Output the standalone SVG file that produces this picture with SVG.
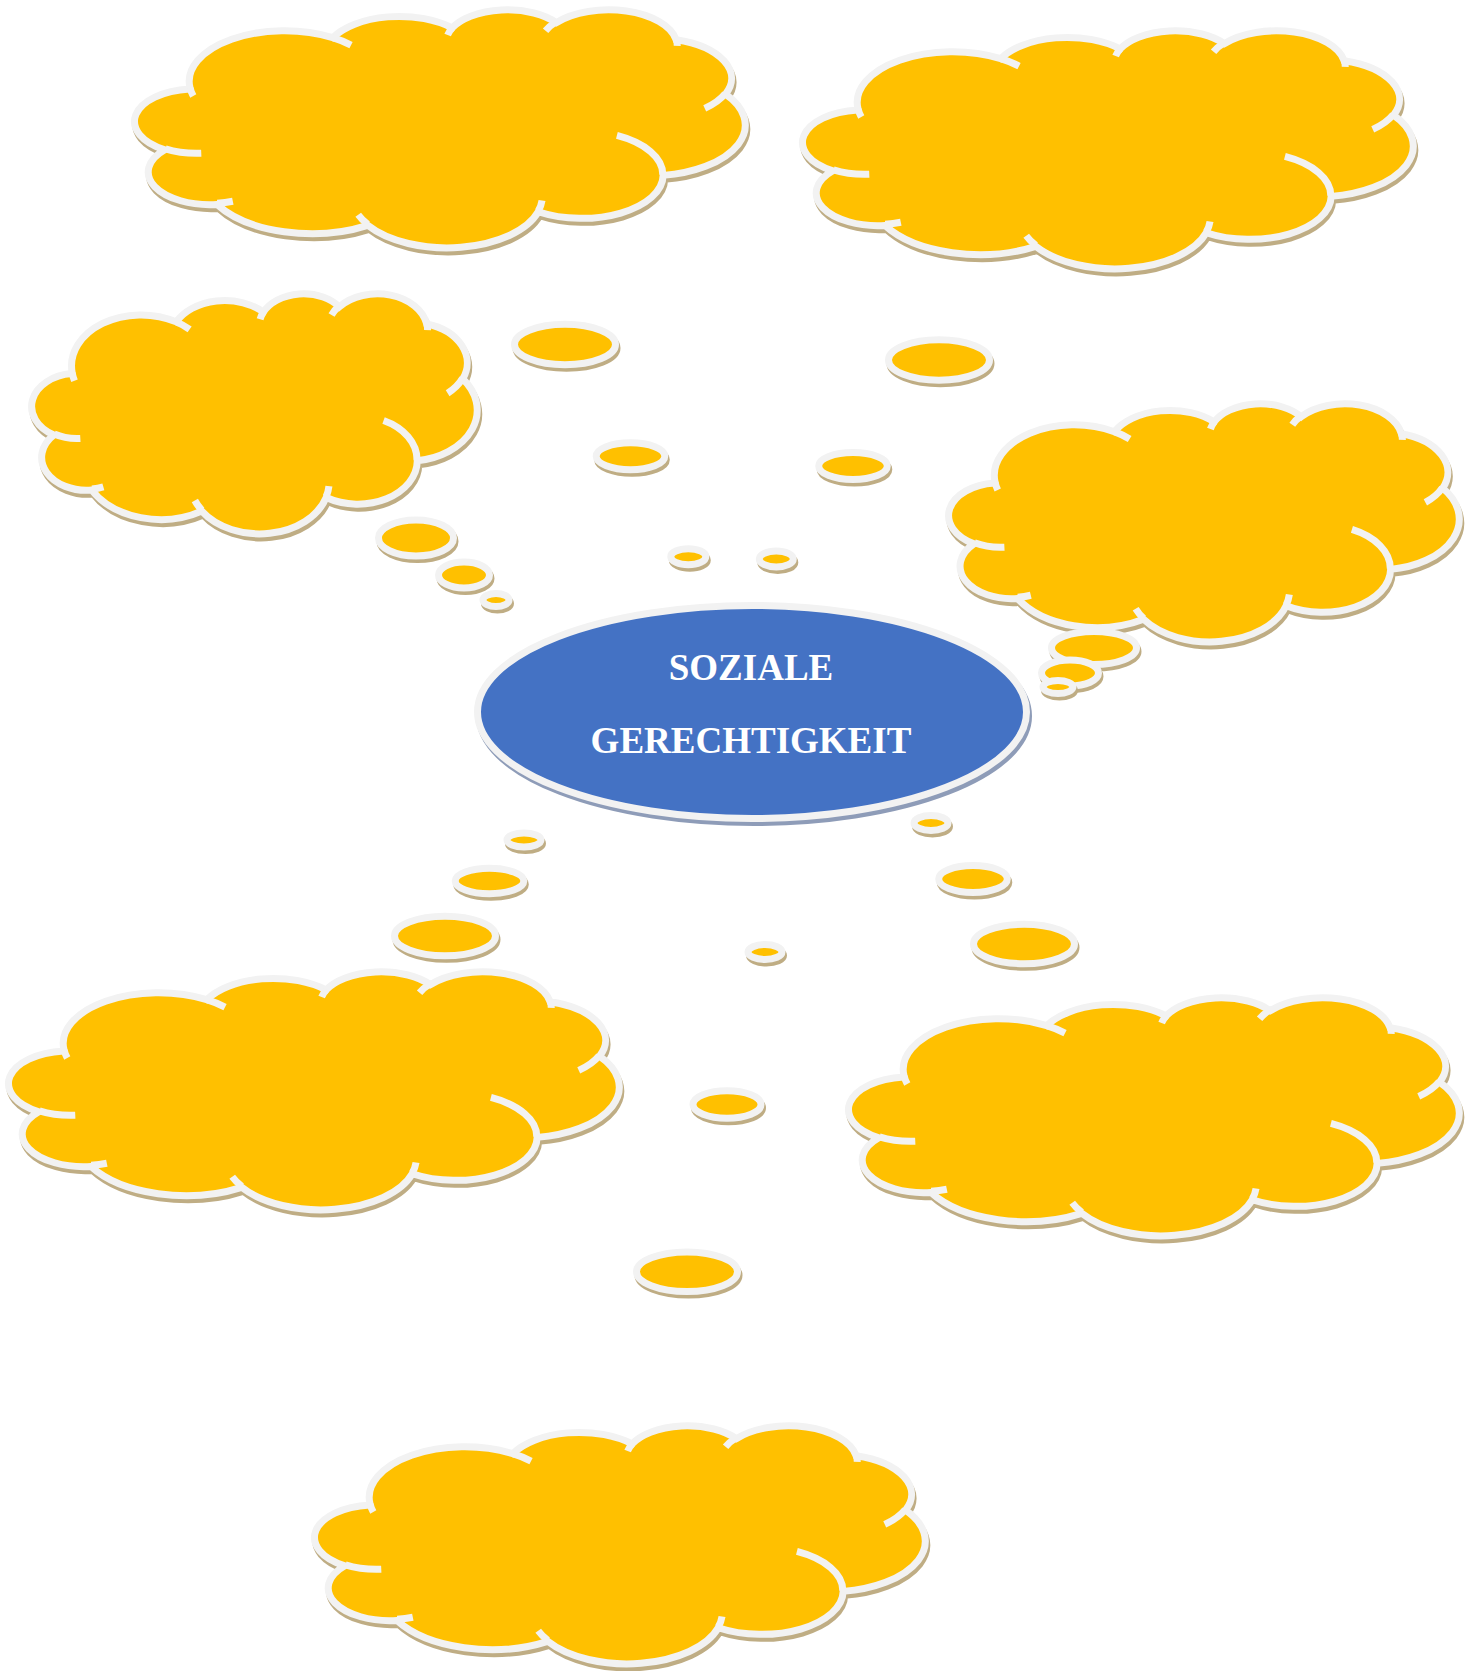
<svg xmlns="http://www.w3.org/2000/svg" width="1477" height="1671" viewBox="0 0 1477 1671">
<style>
.sh{fill:#BFAD84;stroke:#BFAD84;stroke-width:7}
.cl{fill:#FFC000;stroke:#F2F2F2;stroke-width:7}
.cr{fill:none;stroke:#F2F2F2;stroke-width:7;stroke-linecap:butt}
.b{fill:#FFC000;stroke:#F2F2F2;stroke-width:7}
.esh{fill:#8E9CB8;stroke:#8E9CB8;stroke-width:7}
.el{fill:#4472C4;stroke:#F2F2F2;stroke-width:7}
.t{font-family:"Liberation Serif","Times New Roman",serif;font-weight:bold;font-size:37px;fill:#FFFFFF;text-anchor:middle}
</style>
<defs>
<path id="co" vector-effect="non-scaling-stroke" d="M3900 14370 A6753 9190 0 0 1 14005 5202 A5333 7267 0 0 1 22456 3432 A4365 5945 0 0 1 29833 2481 A4857 6595 0 0 1 38319 5576 A5333 7273 0 0 1 41819 15459 A6775 9220 0 0 1 37404 30202 A5785 7867 0 0 1 28556 36812 A6752 9215 0 0 1 16481 39265 A7720 10543 0 0 1 5805 35471 A4360 5918 0 0 1 2113 25550 A4345 5945 0 0 1 3863 14507 Z"/>
<path id="cc" vector-effect="non-scaling-stroke" d="M4693 26177 A4345 5945 0 0 1 2160 25380 M6928 34899 A4360 5918 0 0 1 5820 35280 M16478 39090 A6752 9215 0 0 1 15809 37349 M28827 34751 A6752 9215 0 0 1 28560 36660 M34129 22954 A5785 7867 0 0 1 37380 30090 M41798 15354 A5333 7273 0 0 1 40350 18030 M38324 5426 A4857 6595 0 0 1 38400 6690 M29078 3952 A4857 6595 0 0 1 29820 2341 M22141 4720 A4365 5945 0 0 1 22500 3331 M14000 5192 A6753 9190 0 0 1 15300 6540 M4127 15789 A6753 9190 0 0 1 3900 14371"/>
</defs>
<rect x="0" y="0" width="1477" height="1671" fill="#FFFFFF"/>

<g id="cloud-a" transform="translate(135 9) scale(0.01412 0.005509)">
<use href="#co" class="sh" transform="translate(106 726)"/><use href="#co" class="cl"/><use href="#cc" class="cr"/>
</g>
<g id="cloud-b" transform="translate(803 30) scale(0.01412 0.005509)">
<use href="#co" class="sh" transform="translate(106 726)"/><use href="#co" class="cl"/><use href="#cc" class="cr"/>
</g>
<g id="cloud-c" transform="translate(32 293) scale(0.010301 0.0055556)">
<use href="#co" class="sh" transform="translate(146 720)"/><use href="#co" class="cl"/><use href="#cc" class="cr"/>
</g>
<g id="cloud-d" transform="translate(949 403) scale(0.011806 0.005509)">
<use href="#co" class="sh" transform="translate(127 726)"/><use href="#co" class="cl"/><use href="#cc" class="cr"/>
</g>
<g id="cloud-e" transform="translate(9 971) scale(0.01412 0.005509)">
<use href="#co" class="sh" transform="translate(106 726)"/><use href="#co" class="cl"/><use href="#cc" class="cr"/>
</g>
<g id="cloud-f" transform="translate(849 997) scale(0.01412 0.005509)">
<use href="#co" class="sh" transform="translate(106 726)"/><use href="#co" class="cl"/><use href="#cc" class="cr"/>
</g>
<g id="cloud-g" transform="translate(315 1425) scale(0.01412 0.005509)">
<use href="#co" class="sh" transform="translate(106 726)"/><use href="#co" class="cl"/><use href="#cc" class="cr"/>
</g>

<g id="connectors">
<g id="bubbles-a">
<ellipse class="sh" cx="566.5" cy="348" rx="50.5" ry="20.3"/><ellipse class="b" cx="565" cy="344.5" rx="50.5" ry="20.3"/>
<ellipse class="sh" cx="632" cy="459.8" rx="34.3" ry="13.5"/><ellipse class="b" cx="630.5" cy="456.3" rx="34.3" ry="13.5"/>
<ellipse class="sh" cx="689.8" cy="560.2" rx="17.5" ry="8"/><ellipse class="b" cx="688.3" cy="556.7" rx="17.5" ry="8"/>
</g>
<g id="bubbles-b">
<ellipse class="sh" cx="940.5" cy="363.5" rx="50.5" ry="20.3"/><ellipse class="b" cx="939" cy="360" rx="50.5" ry="20.3"/>
<ellipse class="sh" cx="854.5" cy="469.5" rx="34.3" ry="13.5"/><ellipse class="b" cx="853" cy="466" rx="34.3" ry="13.5"/>
<ellipse class="sh" cx="777.8" cy="562.5" rx="17" ry="8"/><ellipse class="b" cx="776.3" cy="559" rx="17" ry="8"/>
</g>
<g id="bubbles-c">
<ellipse class="sh" cx="417.5" cy="541.5" rx="37.5" ry="18"/><ellipse class="b" cx="416" cy="538" rx="37.5" ry="18"/>
<ellipse class="sh" cx="465.5" cy="578.5" rx="25.5" ry="13"/><ellipse class="b" cx="464" cy="575" rx="25.5" ry="13"/>
<ellipse class="sh" cx="497.5" cy="603.5" rx="13" ry="6.5"/><ellipse class="b" cx="496" cy="600" rx="13" ry="6.5"/>
</g>
<g id="bubbles-d">
<ellipse class="sh" cx="1095.5" cy="651.5" rx="42.5" ry="16.5"/><ellipse class="b" cx="1094" cy="648" rx="42.5" ry="16.5"/>
<ellipse class="sh" cx="1071.5" cy="676.5" rx="28.5" ry="13"/><ellipse class="b" cx="1070" cy="673" rx="28.5" ry="13"/>
<ellipse class="sh" cx="1059.5" cy="690.5" rx="15" ry="6.5"/><ellipse class="b" cx="1058" cy="687" rx="15" ry="6.5"/>
</g>
<g id="bubbles-e">
<ellipse class="sh" cx="525.5" cy="843.5" rx="17" ry="7"/><ellipse class="b" cx="524" cy="840" rx="17" ry="7"/>
<ellipse class="sh" cx="491" cy="884.5" rx="34.3" ry="12.7"/><ellipse class="b" cx="489.5" cy="881" rx="34.3" ry="12.7"/>
<ellipse class="sh" cx="446.5" cy="939.5" rx="50.5" ry="19.7"/><ellipse class="b" cx="445" cy="936" rx="50.5" ry="19.7"/>
</g>
<g id="bubbles-f">
<ellipse class="sh" cx="932.5" cy="826.5" rx="17" ry="7.5"/><ellipse class="b" cx="931" cy="823" rx="17" ry="7.5"/>
<ellipse class="sh" cx="974.5" cy="882.5" rx="34.3" ry="13.5"/><ellipse class="b" cx="973" cy="879" rx="34.3" ry="13.5"/>
<ellipse class="sh" cx="1025.5" cy="947.5" rx="50.5" ry="19.7"/><ellipse class="b" cx="1024" cy="944" rx="50.5" ry="19.7"/>
</g>
<g id="bubbles-g">
<ellipse class="sh" cx="766.5" cy="955.5" rx="17" ry="7.5"/><ellipse class="b" cx="765" cy="952" rx="17" ry="7.5"/>
<ellipse class="sh" cx="728.5" cy="1108" rx="34" ry="13.7"/><ellipse class="b" cx="727" cy="1104.5" rx="34" ry="13.7"/>
<ellipse class="sh" cx="688.5" cy="1275.2" rx="50.5" ry="19.8"/><ellipse class="b" cx="687" cy="1271.7" rx="50.5" ry="19.8"/>
</g>
</g>

<g id="center">
<ellipse class="esh" cx="754" cy="716" rx="274.5" ry="106.5"/>
<ellipse class="el" cx="752" cy="712" rx="274.5" ry="106.5"/>
<text class="t" x="751" y="680">SOZIALE</text>
<text class="t" x="751" y="753">GERECHTIGKEIT</text>
</g>
</svg>
